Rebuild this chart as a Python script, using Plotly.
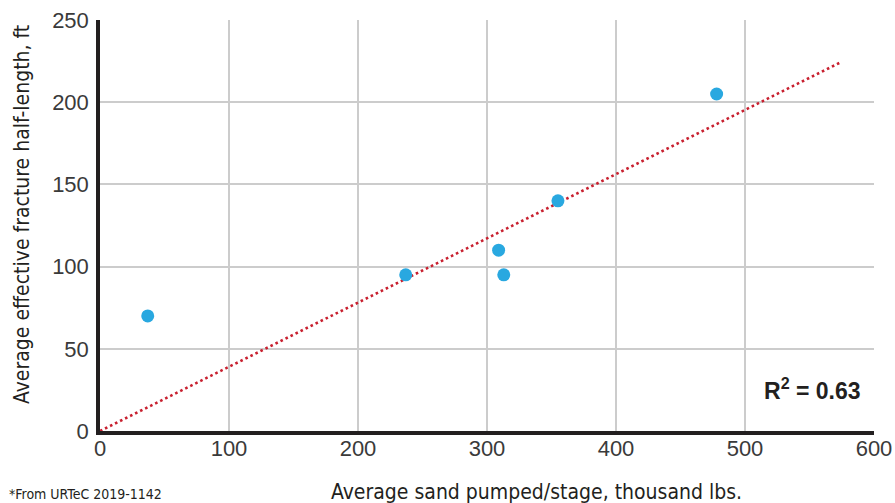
import plotly.graph_objects as go

sand_x = [37, 237, 309, 313, 355, 478]
half_len_y = [70, 95, 110, 95, 140, 205]
trend_x = [0, 575]
trend_y = [0, 224.6]
x_ticks = [0, 100, 200, 300, 400, 500, 600]
y_ticks = [0, 50, 100, 150, 200, 250]

NARROW = "Liberation Sans Narrow, DejaVu Sans Condensed, Arial Narrow, sans-serif"
TICKF = "Liberation Sans, Arial, Helvetica, sans-serif"

fig = go.Figure()
fig.add_trace(go.Scatter(x=trend_x, y=trend_y, mode="lines",
                         line=dict(color="#c8202f", width=2.6, dash="2.6px,3px"),
                         hoverinfo="skip", showlegend=False))
fig.add_trace(go.Scatter(x=sand_x, y=half_len_y, mode="markers",
                         marker=dict(color="#29a8e0", size=13, line=dict(width=0)),
                         showlegend=False))

fig.update_layout(
    width=895, height=503,
    margin=dict(l=100, r=21, t=20, b=72, autoexpand=False),
    showlegend=False,
    paper_bgcolor="white", plot_bgcolor="white",
    font=dict(family=TICKF, color="#333333"),
    xaxis=dict(range=[0, 600], tickvals=x_ticks, showgrid=True, gridcolor="#cccccc",
               gridwidth=1.5, showline=True, linecolor="#231f20", linewidth=3.5,
               zeroline=False, ticks="", tickfont=dict(size=22, color="#3a3a3a"),
               ticklabelstandoff=-5, automargin=False),
    yaxis=dict(range=[0, 250], tickvals=y_ticks, showgrid=True, gridcolor="#cccccc",
               gridwidth=1.5, showline=True, linecolor="#231f20", linewidth=3.5,
               zeroline=False, ticks="", tickfont=dict(size=22, color="#3a3a3a"),
               ticklabelstandoff=3, automargin=False),
    annotations=[
        dict(text="Average sand pumped/stage, thousand lbs.", xref="paper", yref="paper",
             x=(536 - 100) / 774, y=-(492 - 431) / 411, xanchor="center", yanchor="middle",
             showarrow=False, font=dict(family=NARROW, size=21, color="#231f20")),
        dict(text="Average effective fracture half-length, ft", xref="paper", yref="paper",
             x=-(100 - 22) / 774, y=(431 - 215) / 411, xanchor="center", yanchor="middle",
             textangle=-90, showarrow=False,
             font=dict(family=NARROW, size=21, color="#231f20")),
        dict(text="*From URTeC 2019-1142", xref="paper", yref="paper",
             x=-(100 - 7) / 774, y=-(494 - 431) / 411, xanchor="left", yanchor="middle",
             showarrow=False, font=dict(family=NARROW, size=14, color="#231f20")),
        dict(text="<b>R<sup>2</sup> = 0.63</b>", xref="paper", yref="paper",
             x=(863 - 100) / 774, y=(431 - 389) / 411, xanchor="right", yanchor="middle",
             showarrow=False, font=dict(family=TICKF, size=23, color="#231f20")),
    ],
)

fig.write_html("out.html")
